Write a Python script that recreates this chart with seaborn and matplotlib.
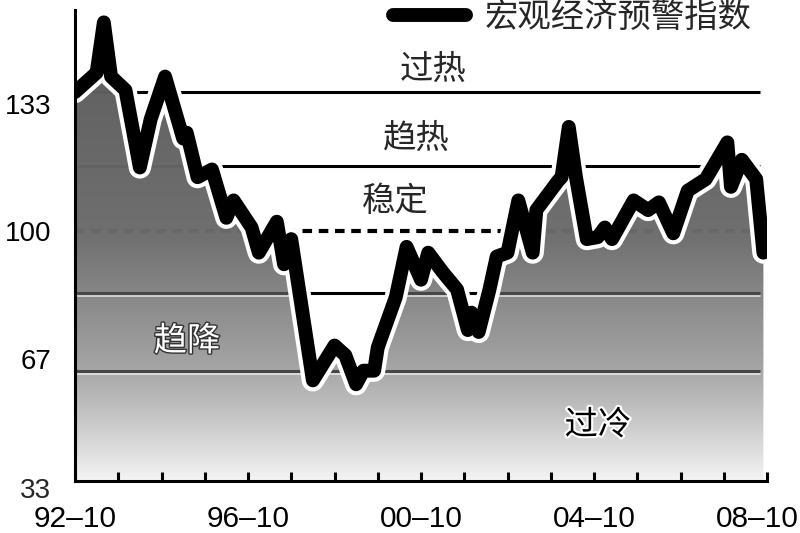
import numpy as np
import pandas as pd
import seaborn as sns
import matplotlib.pyplot as plt
import matplotlib.patheffects as pe
from matplotlib.colors import LinearSegmentedColormap
from matplotlib.transforms import ScaledTranslation

# turning points of the warning index
dates = ['1992-10', '1993-04', '1993-06', '1993-08', '1993-12', '1994-04', '1994-07',
         '1994-11', '1995-04', '1995-05', '1995-08', '1995-12', '1996-04', '1996-06',
         '1996-11', '1997-01', '1997-06', '1997-08', '1997-10', '1998-04', '1998-10',
         '1999-01', '1999-04', '1999-06', '1999-09', '1999-10', '2000-03', '2000-06',
         '2000-10', '2000-12', '2001-04', '2001-08', '2001-11', '2001-12', '2002-02',
         '2002-05', '2002-07', '2002-10', '2003-01', '2003-05', '2003-06', '2003-12',
         '2004-01', '2004-03', '2004-05', '2004-08', '2004-11', '2005-01', '2005-03',
         '2005-09', '2006-01', '2006-04', '2006-08', '2006-12', '2007-05', '2007-11',
         '2007-12', '2008-03', '2008-07', '2008-09']
index = [136, 141, 154, 140, 136.5, 116.5, 129,
         140, 124, 125.5, 114, 116, 103.5, 108,
         101, 94.5, 102.5, 91.5, 98, 61.5, 70.5,
         68, 60.5, 64, 64, 70, 83, 96,
         87.5, 94.5, 89.5, 85, 74.5, 79, 74,
         85, 93.5, 94.5, 108, 94.5, 105.5, 113,
         114, 127, 114, 98, 98.5, 101, 98,
         108, 105.5, 107.5, 99.5, 110.5, 113.5, 123,
         111.5, 118.5, 113.5, 94.5]

hot_lines = [136, 117]
mid_line = 100
cold_lines = [84, 64]
ytick_vals = [133, 100, 67]
ytick_labels = ['133', '100', '67']
xtick_labels = ['92–10', '96–10', '00–10', '04–10', '08–10']
zones = ['过热', '趋热', '稳定', '趋降', '过冷']

d = pd.to_datetime(dates)
months = (d.year - 1992) * 12 + d.month - 10

sns.set_style('white')
plt.rcParams['font.family'] = ['Liberation Sans', 'Noto Sans CJK SC']

fig = plt.figure(figsize=(8, 5.33), dpi=100)
ax = fig.add_axes([75 / 800, 52 / 533, 692 / 800, 471 / 533])
ymin, ymax = 35.5, 157.2

# zone boundaries (behind the shaded area)
ax.hlines(hot_lines, 0, 190, colors='black', lw=2.2, zorder=1)
ax.hlines(cold_lines, 0, 190, colors='black', lw=2.2, zorder=1)
ax.hlines(mid_line, 0, 190, colors='black', lw=3, linestyles=(0, (2.3, 1.6)), zorder=1)

# gradient area under the line
area = ax.fill_between(months, index, ymin, facecolor='none', edgecolor='none')
clip = area.get_paths()[0]
cmap = LinearSegmentedColormap.from_list('g', [(0, '#f4f4f4'), (0.12, '#c9c9c9'), (0.24, '#a3a3a3'),
                                               (0.4, '#838383'), (0.53, '#6b6b6b'), (1, '#585858')])
grad = np.linspace(0, 1, 256).reshape(-1, 1)
img = ax.imshow(grad, extent=[0, 192, ymin, ymax], origin='lower', aspect='auto',
                cmap=cmap, alpha=0.98, zorder=2)
img.set_clip_path(clip, transform=ax.transData)

# lower boundaries show through the shading as grey bars
gl = ax.hlines(cold_lines, 0, 190, colors='#474747', lw=2.2, zorder=3,
               path_effects=[pe.SimpleLineShadow(offset=(0, -1.3), shadow_color='white', alpha=0.6),
                             pe.Normal()])
gl.set_clip_path(clip, transform=ax.transData)

sns.lineplot(x=months, y=index, color='black', lw=10, label='宏观经济预警指数',
             solid_joinstyle='round', solid_capstyle='round', zorder=4, ax=ax,
             path_effects=[pe.withStroke(linewidth=16, foreground='white')])

cjk = 'Noto Sans CJK SC'
ax.text(99.3, 141.8, zones[0], fontsize=24, family=cjk, ha='center', va='center', zorder=5)
ax.text(94.6, 124.0, zones[1], fontsize=24, family=cjk, ha='center', va='center', zorder=5)
ax.text(88.8, 107.8, zones[2], fontsize=24, family=cjk, ha='center', va='center', zorder=5)
ax.text(31.1, 71.6, zones[3], fontsize=24, family=cjk, ha='center', va='center', color='white',
        zorder=5, path_effects=[pe.withStroke(linewidth=2, foreground='#333333')])
ax.text(145.1, 49.9, zones[4], fontsize=24, family=cjk, ha='center', va='center', color='black',
        zorder=5, path_effects=[pe.withStroke(linewidth=3, foreground='white')])

ax.set_xlim(0, 192)
ax.set_ylim(ymin, ymax)
ax.set_xlabel('')
ax.set_ylabel('')

ax.set_xticks(np.arange(0, 193, 12))
ax.set_xticklabels([xtick_labels[i // 4] if i % 4 == 0 else '' for i in range(17)])
ax.set_yticks(ytick_vals)
ax.set_yticklabels(ytick_labels)
ax.annotate('33', xy=(0, 33), xycoords=('axes fraction', 'data'), xytext=(-17, 0),
            textcoords='offset points', ha='right', va='center', fontsize=20,
            annotation_clip=False)

ax.tick_params(axis='x', direction='in', length=6.5, width=2.2, labelsize=21.5, pad=17,
               colors='black', bottom=True)
ax.tick_params(axis='y', length=0, labelsize=20, pad=17, colors='black', left=True)
ax.xaxis.set_zorder(6)
last = ax.get_xticklabels()[-1]
last.set_transform(last.get_transform() + ScaledTranslation(-0.1, 0, fig.dpi_scale_trans))

sns.despine(ax=ax)
for s in ['left', 'bottom']:
    ax.spines[s].set_linewidth(2.2)
    ax.spines[s].set_color('black')
    ax.spines[s].set_zorder(6)

handles, labels = ax.get_legend_handles_labels()
ax.legend(handles, labels, loc='center left', bbox_to_anchor=(393 / 800, 1 - 18 / 533),
          bbox_transform=fig.transFigure, frameon=False, fontsize=24, handlelength=2.2,
          handletextpad=0.56, borderpad=0, borderaxespad=0)

fig.savefig('out.png', dpi=100)
